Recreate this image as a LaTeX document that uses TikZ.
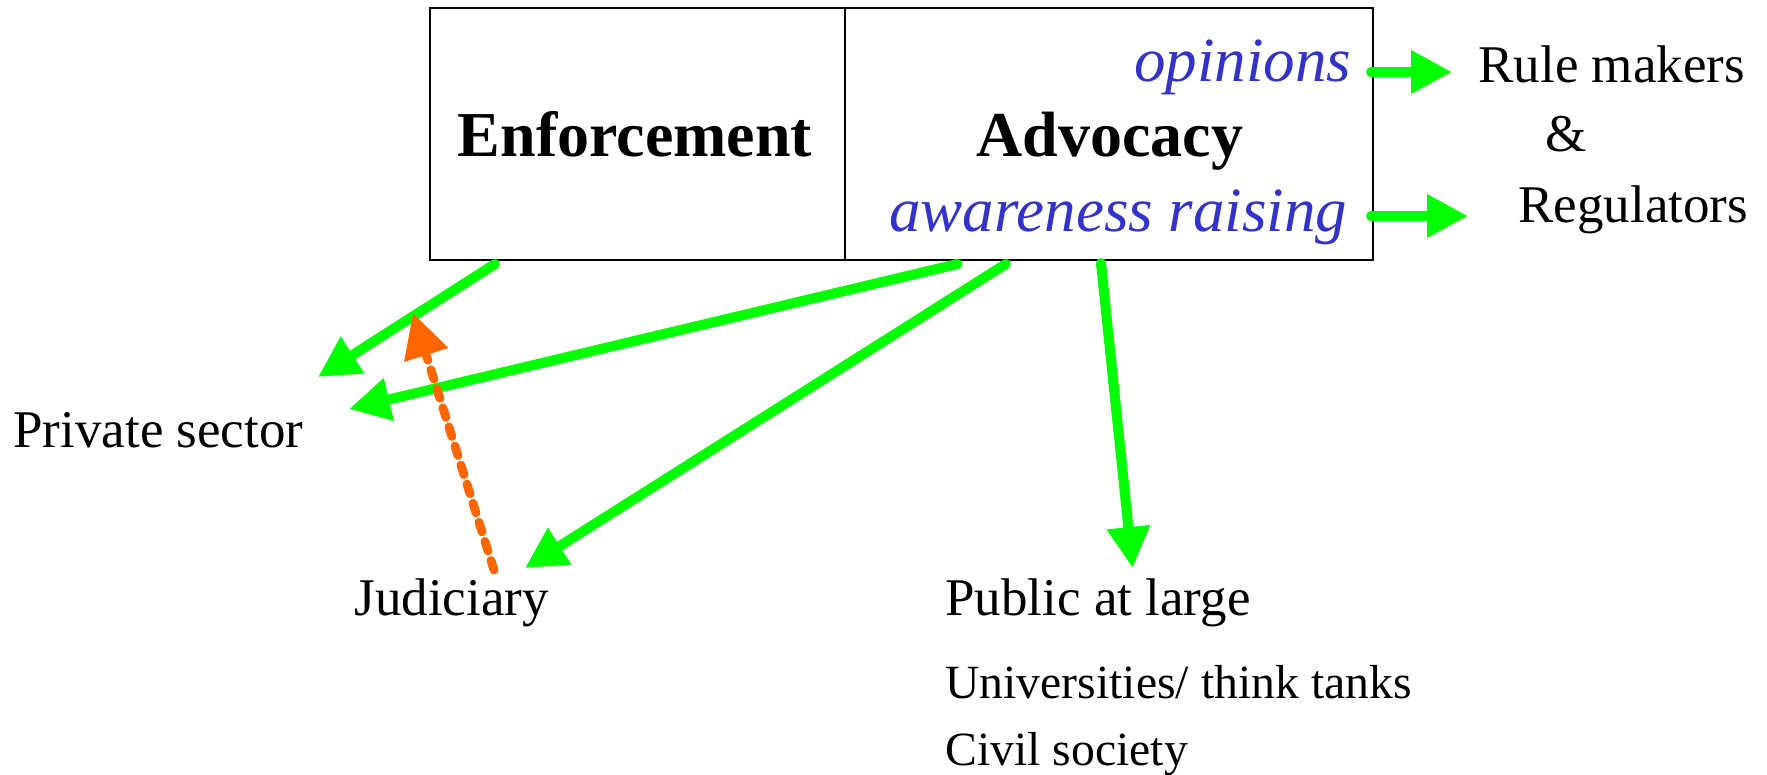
\documentclass[tikz,border=0pt]{standalone}
\usepackage{fontspec}
\setmainfont{Liberation Serif}[ItalicFont={Liberation Serif Italic},BoldFont={Liberation Serif Bold}]
\usetikzlibrary{arrows.meta}
\definecolor{lgreen}{RGB}{0,255,0}
\definecolor{dorange}{RGB}{255,102,0}
\definecolor{tblue}{RGB}{51,51,204}
\tikzset{
  boxpart/.style={draw=black, line width=1pt, outer sep=0pt, inner sep=0pt, anchor=north west, minimum height=126pt},
  boldlbl/.style={inner sep=0pt, font=\fontsize{32}{36}\selectfont\bfseries},
  itlbl/.style={inner sep=0pt, text=tblue, font=\fontsize{31.5}{36}\selectfont\itshape},
  lbl/.style={inner sep=0pt, anchor=base west, font=\fontsize{26.5}{30}\selectfont},
  smlbl/.style={inner sep=0pt, anchor=base west, font=\fontsize{23.85}{28}\selectfont},
  garrow/.style={draw=lgreen, line width=5pt, line cap=round, -{Triangle[length=20.5pt,width=20.5pt]}},
  oarrow/.style={draw=dorange, line width=4.4pt, line cap=round, dash pattern=on 5pt off 5pt, -{Triangle[length=22pt,width=22pt]}}
}
\begin{document}
\begin{tikzpicture}[x=0.5pt,y=-0.5pt]
\useasboundingbox (0,0) rectangle (1767,775);
% box
\node[boxpart, minimum width=207.5pt] (enf) at (430,8) {};
\node[boxpart, minimum width=264pt] (adv) at (845,8) {};
\node[boldlbl, anchor=base] (enft) at (635,157) {Enforcement};
\node[boldlbl, anchor=base] (advt) at (1110,157) {Advocacy};
\node[itlbl, anchor=base west] (opin) at (1134,82) {opinions};
\node[itlbl, anchor=base west] (aware) at (889,232) {awareness raising};
% labels
\node[lbl] (rule) at (1478,83) {Rule makers};
\node[lbl] (amp) at (1545,152) {\&};
\node[lbl] (reg) at (1518,223) {Regulators};
\node[lbl] (priv) at (13,447) {Private sector};
\node[lbl] (jud) at (354,615) {Judiciary};
\node[lbl] (pub) at (945,615) {Public at large};
\node[smlbl] (uni) at (945,698) {Universities/ think tanks};
\node[smlbl] (civ) at (945,765) {Civil society};
% arrow end points
\coordinate (rmtip) at (1452,72);
\coordinate (regtip) at (1468,216);
\coordinate (privtipA) at (318,377);
\coordinate (privtipB) at (349,409);
\coordinate (judtip) at (525,568);
\coordinate (pubtip) at (1132.6,568);
\coordinate (judstart) at (494,570);
\coordinate (orangetip) at (413,313);
% green arrows
\draw[garrow] ([xshift=-1pt,yshift=-32pt]adv.north east) -- (rmtip);
\draw[garrow] ([xshift=-1pt,yshift=-104pt]adv.north east) -- (regtip);
\draw[garrow] ([xshift=32.5pt,yshift=-2pt]enf.south west) -- (privtipA);
\draw[garrow] ([xshift=56.3pt,yshift=-2pt]adv.south west) -- (privtipB);
\draw[garrow] ([xshift=80.4pt,yshift=-2pt]adv.south west) -- (judtip);
\draw[garrow] ([xshift=128pt,yshift=-1.5pt]adv.south west) -- (pubtip);
% orange dashed
\draw[oarrow] (judstart) -- (orangetip);
\end{tikzpicture}
\end{document}
